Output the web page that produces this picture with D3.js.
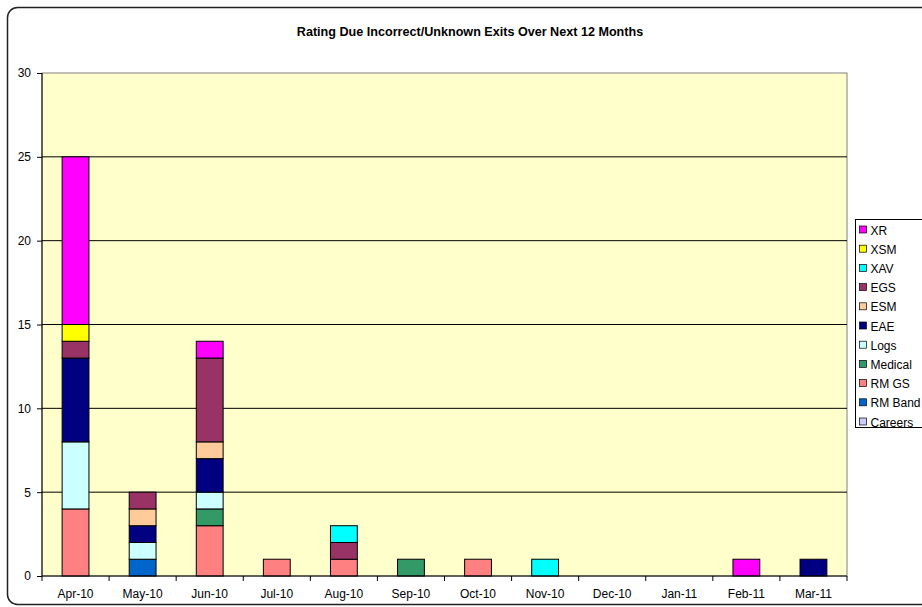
<!DOCTYPE html>
<html>
<head>
<meta charset="utf-8">
<script src="https://cdn.jsdelivr.net/npm/d3@7"></script>
<style>
  body { margin: 0; background: #fff; }
  svg { display: block; font-family: "Liberation Sans", Arial, sans-serif; }
  .axis text { font-size: 12px; fill: #000; }
  .axis path, .axis line { stroke: #000; }
</style>
</head>
<body>
<svg id="chart"></svg>
<script>
// months along the x axis
const months = ["Apr-10", "May-10", "Jun-10", "Jul-10", "Aug-10", "Sep-10",
                "Oct-10", "Nov-10", "Dec-10", "Jan-11", "Feb-11", "Mar-11"];

// stack order, bottom to top
const seriesNames = ["Careers", "RM Band", "RM GS", "Medical", "Logs", "EAE",
                     "ESM", "EGS", "XAV", "XSM", "XR"];
const seriesColors = ["#CCCCFF", "#0066CC", "#FF8080", "#339966", "#CCFFFF", "#000080",
                      "#FFCC99", "#993366", "#00FFFF", "#FFFF00", "#FF00FF"];

// one value per month for each series
const careers = [0, 0, 0, 0, 0, 0, 0, 0, 0, 0, 0, 0];
const rmBand  = [0, 1, 0, 0, 0, 0, 0, 0, 0, 0, 0, 0];
const rmGs    = [4, 0, 3, 1, 1, 0, 1, 0, 0, 0, 0, 0];
const medical = [0, 0, 1, 0, 0, 1, 0, 0, 0, 0, 0, 0];
const logs    = [4, 1, 1, 0, 0, 0, 0, 0, 0, 0, 0, 0];
const eae     = [5, 1, 2, 0, 0, 0, 0, 0, 0, 0, 0, 1];
const esm     = [0, 1, 1, 0, 0, 0, 0, 0, 0, 0, 0, 0];
const egs     = [1, 1, 5, 0, 1, 0, 0, 0, 0, 0, 0, 0];
const xav     = [0, 0, 0, 0, 1, 0, 0, 1, 0, 0, 0, 0];
const xsm     = [1, 0, 0, 0, 0, 0, 0, 0, 0, 0, 0, 0];
const xr      = [10, 0, 1, 0, 0, 0, 0, 0, 0, 0, 1, 0];

const yTicks = [0, 5, 10, 15, 20, 25, 30];
const title = "Rating Due Incorrect/Unknown Exits Over Next 12 Months";

const seriesValues = [careers, rmBand, rmGs, medical, logs, eae, esm, egs, xav, xsm, xr];

const table = months.map((m, i) => {
    const row = { month: m };
    seriesNames.forEach((s, k) => { row[s] = seriesValues[k][i]; });
    return row;
});

const W = 922, H = 607;
const margin = { top: 73, right: 75, bottom: 31, left: 42 };
const width = W - margin.left - margin.right;
const height = H - margin.top - margin.bottom;

const svg = d3.select("#chart").attr("width", W).attr("height", H);

// outer chart frame
svg.append("rect")
    .attr("x", 7.5).attr("y", 7.5)
    .attr("width", 940).attr("height", 597)
    .attr("rx", 10).attr("ry", 10)
    .attr("fill", "#fff")
    .attr("stroke", "#222")
    .attr("stroke-width", 1.5);

svg.append("text")
    .attr("x", 470).attr("y", 36)
    .attr("text-anchor", "middle")
    .attr("font-size", 12.6)
    .attr("font-weight", "bold")
    .text(title);

const g = svg.append("g").attr("transform", `translate(${margin.left},${margin.top})`);

const x = d3.scaleBand().domain(months).range([0, width]).paddingInner(0.6).paddingOuter(0.3);
const xOuter = d3.scaleBand().domain(months).range([0, width]);
const y = d3.scaleLinear().domain([0, 30]).range([height, 0]);

g.append("rect")
    .attr("width", width).attr("height", height)
    .attr("fill", "#FFFFCC")
    .attr("stroke", "#808080");

g.append("g")
    .selectAll("line")
    .data(yTicks.filter(t => t > 0 && t < 30))
    .join("line")
    .attr("x1", 0).attr("x2", width)
    .attr("y1", d => y(d)).attr("y2", d => y(d))
    .attr("stroke", "#000");

const stack = d3.stack().keys(seriesNames)(table);

g.append("g")
    .selectAll("g")
    .data(stack)
    .join("g")
    .attr("fill", (d, i) => seriesColors[i])
    .selectAll("rect")
    .data(d => d.filter(p => p[1] > p[0]))
    .join("rect")
    .attr("x", d => x(d.data.month))
    .attr("width", x.bandwidth())
    .attr("y", d => y(d[1]))
    .attr("height", d => y(d[0]) - y(d[1]))
    .attr("stroke", "#000")
    .attr("stroke-width", 1);

// y axis
const yAxisG = g.append("g").attr("class", "axis")
    .call(d3.axisLeft(y).tickValues(yTicks).tickSize(5).tickPadding(6));
yAxisG.select(".domain").attr("d", `M0,0V${height}`);

// x axis with ticks between categories
const xAxisG = g.append("g").attr("class", "axis")
    .attr("transform", `translate(0,${height})`);
xAxisG.append("line").attr("x1", 0).attr("x2", width).attr("stroke", "#000");
xAxisG.selectAll(".sep")
    .data(months.concat(["end"]))
    .join("line")
    .attr("class", "sep")
    .attr("x1", (d, i) => i * xOuter.step())
    .attr("x2", (d, i) => i * xOuter.step())
    .attr("y1", 0).attr("y2", 5)
    .attr("stroke", "#000");
xAxisG.selectAll(".lbl")
    .data(months)
    .join("text")
    .attr("class", "lbl")
    .attr("x", d => xOuter(d) + xOuter.bandwidth() / 2)
    .attr("y", 21.5)
    .attr("text-anchor", "middle")
    .text(d => d);

// legend, reversed order
const legend = svg.append("g").attr("transform", "translate(855.5,219.5)");
legend.append("rect")
    .attr("width", 80).attr("height", 208)
    .attr("fill", "#fff").attr("stroke", "#000");
const legendItems = seriesNames.map((s, i) => ({ name: s, color: seriesColors[i] })).reverse();
const li = legend.selectAll(".item")
    .data(legendItems)
    .join("g")
    .attr("class", "item")
    .attr("transform", (d, i) => `translate(4,${10.5 + i * 19.2})`);
li.append("rect")
    .attr("x", 0).attr("y", -4)
    .attr("width", 7).attr("height", 7)
    .attr("fill", d => d.color)
    .attr("stroke", "#000").attr("stroke-width", 0.7);
li.append("text")
    .attr("x", 11).attr("y", 4.5)
    .attr("font-size", 12)
    .text(d => d.name);
</script>
</body>
</html>
